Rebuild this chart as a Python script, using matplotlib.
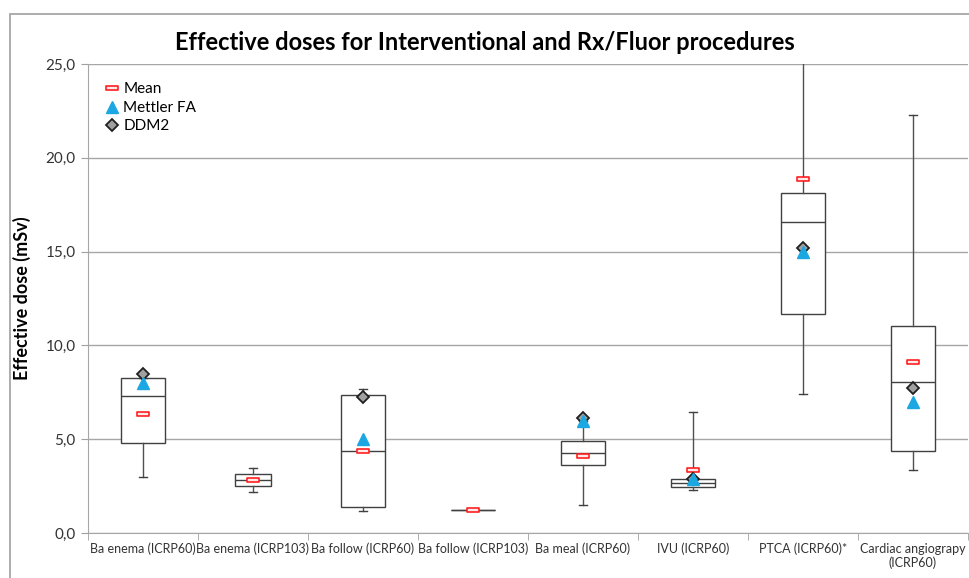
import matplotlib.pyplot as plt
from matplotlib.patches import Rectangle
from matplotlib.path import Path
import numpy as np

plt.rcParams['font.family'] = ['Lato', 'DejaVu Sans']

# procedures and box statistics (mSv)
procedures = ["Ba enema (ICRP60)", "Ba enema (ICRP103)", "Ba follow (ICRP60)",
              "Ba follow (ICRP103)", "Ba meal (ICRP60)", "IVU (ICRP60)",
              "PTCA (ICRP60)*", "Cardiac angiograpy\n(ICRP60)"]
whisker_low = [3.0, 2.2, 1.15, 1.22, 1.5, 2.3, 7.4, 3.35]
q1 = [4.8, 2.5, 1.4, 1.22, 3.62, 2.45, 11.65, 4.37]
median = [7.3, 2.85, 4.37, 1.22, 4.27, 2.65, 16.6, 8.05]
q3 = [8.25, 3.15, 7.36, 1.22, 4.9, 2.87, 18.1, 11.05]
whisker_high = [8.25, 3.47, 7.67, 1.22, 5.95, 6.45, 27.0, 22.3]
mean = [6.35, 2.85, 4.38, 1.25, 4.08, 3.35, 18.87, 9.1]

# comparison values, None where not available
mettler_fa = [8.0, None, 5.0, None, 5.95, 2.9, 15.0, 7.0]
ddm2 = [8.5, None, 7.25, None, 6.15, 2.9, 15.2, 7.72]

fig = plt.figure(figsize=(9.7, 5.78), dpi=100)
fig.patches.append(Rectangle((10 / 970, -0.1), 1.1, 1 - 14 / 578 + 0.1,
                             transform=fig.transFigure, fill=False,
                             edgecolor='#a6a6a6', linewidth=1.3))
ax = fig.add_axes([88 / 970, 1 - 533 / 578, 880 / 970, 469 / 578])

pos = np.arange(len(procedures))
stats = []
for i in range(len(procedures)):
    stats.append({"whislo": whisker_low[i], "q1": q1[i], "med": median[i],
                  "q3": q3[i], "whishi": whisker_high[i]})

box_w = [0.4, 0.32, 0.4, 0.4, 0.4, 0.4, 0.4, 0.4]
ax.bxp(stats, positions=pos, widths=box_w, showfliers=False, patch_artist=True,
       boxprops=dict(facecolor='white', edgecolor='#404040', linewidth=1.0),
       medianprops=dict(color='#404040', linewidth=1.0),
       whiskerprops=dict(color='#505050', linewidth=1.0),
       capprops=dict(color='#404040', linewidth=1.0), capwidths=0.08,
       zorder=2)

# mean marker: flat red rectangle
rect = Path([(-1, -0.3), (1, -0.3), (1, 0.3), (-1, 0.3), (-1, -0.3)],
            [Path.MOVETO, Path.LINETO, Path.LINETO, Path.LINETO, Path.CLOSEPOLY])
ax.plot(pos, mean, linestyle='none', marker=rect, markersize=8,
        markerfacecolor='#ffe8e8', markeredgecolor='#ff2020',
        markeredgewidth=1.2, label='Mean', zorder=4)

mx = [p for p, v in zip(pos, mettler_fa) if v is not None]
my = [v for v in mettler_fa if v is not None]
dx = [p for p, v in zip(pos, ddm2) if v is not None]
dy = [v for v in ddm2 if v is not None]
ax.plot(mx, my, linestyle='none', marker='^', markersize=8,
        color='#1ba8e2', markeredgecolor='#1ba8e2', label='Mettler FA', zorder=5)
ax.plot(dx, dy, linestyle='none', marker='D', markersize=6.5,
        markerfacecolor='#a0a0a0', markeredgecolor='#202020',
        markeredgewidth=1.3, label='DDM2', zorder=4)

ax.set_xlim(-0.5, len(procedures) - 0.5)
ax.set_ylim(0, 25)
ax.set_yticks(np.arange(0, 25.1, 5))
ax.set_yticklabels([f"{v:.1f}".replace('.', ',') for v in np.arange(0, 25.1, 5)],
                   fontsize=11, color='#333333')
ax.set_xticks(pos)
ax.set_xticklabels(procedures, fontsize=9, color='#333333')
ax.tick_params(axis='x', length=0, pad=7)
ax.set_xticks(np.arange(-0.5, len(procedures)), minor=True)
ax.tick_params(axis='x', which='minor', length=5, color='#a0a0a0')
ax.tick_params(axis='y', length=5, color='#a0a0a0', pad=4)
ax.yaxis.grid(True, color='#a6a6a6', linewidth=1.0)
ax.set_axisbelow(True)
for s in ['top', 'right']:
    ax.spines[s].set_visible(False)
for s in ['left', 'bottom']:
    ax.spines[s].set_color('#a6a6a6')

ax.set_ylabel("Effective dose (mSv)", fontsize=13, fontweight='bold', labelpad=10)
fig.text(0.5, 1 - 42 / 578, "Effective doses for Interventional and Rx/Fluor procedures",
         ha='center', va='center', fontsize=17, fontweight='bold')

ax.legend(loc='upper left', bbox_to_anchor=(0.0, 1.0), frameon=False,
          fontsize=11, handlelength=0.8, handletextpad=0.3, labelspacing=0.3,
          borderaxespad=0.8)

fig.savefig("out.png", dpi=100)
